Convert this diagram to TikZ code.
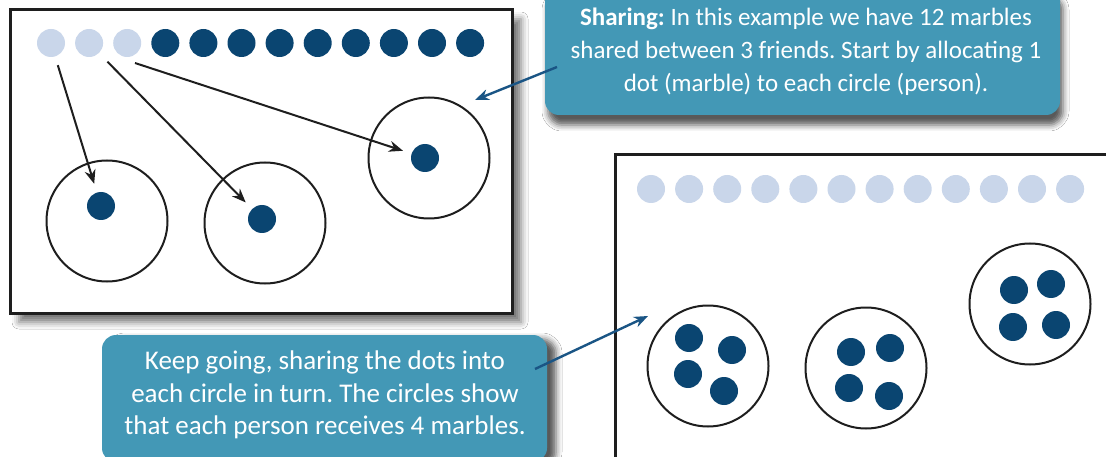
\documentclass[tikz,border=0pt]{standalone}
\usepackage{fontspec}
\setmainfont{Carlito}
\usetikzlibrary{arrows.meta,shadows.blur}
\definecolor{darkdot}{HTML}{0A4571}
\definecolor{lightdot}{HTML}{C9D6EA}
\definecolor{callfill}{HTML}{4398B6}
\definecolor{callarrow}{HTML}{1A5585}
\definecolor{ringcol}{HTML}{1E1E1E}
\tikzset{
  dk/.style={circle,fill=darkdot,minimum size=28pt,inner sep=0pt},
  lt/.style={circle,fill=lightdot,minimum size=28pt,inner sep=0pt},
  ring/.style={circle,draw=ringcol,line width=2pt,minimum size=121pt,inner sep=0pt},
  panel/.style={draw=ringcol,line width=3pt,fill=white},
  callout/.style={fill=callfill,rounded corners=14pt},
  calltext/.style={text=white,align=center},
  blk/.style={line width=2pt,draw=ringcol,-{Stealth[length=14pt,width=11pt]}},
  blu/.style={line width=2.4pt,draw=callarrow,-{Stealth[length=14pt,width=11pt]}},
}
\frenchspacing
\begin{document}
\begin{tikzpicture}[x=1pt,y=-1pt]
\useasboundingbox (0,0) rectangle (1106,457);
\fill[white] (0,0) rectangle (1106,457);
% left panel
\path[panel,blur shadow={shadow xshift=9pt,shadow yshift=-9pt,shadow blur radius=7pt,shadow opacity=55}] (10,10) rectangle (512,313);
% right panel
\path[panel] (615,155) rectangle (1120,470);
% top row left
\foreach \i in {1,2,3} {\node[lt] (a\i) at ({51+38.1*(\i-1)},43) {};}
\foreach \i in {4,...,12} {\node[dk] (a\i) at ({51+38.1*(\i-1)},43) {};}
% rings left
\node[ring] (r1) at (107,221) {};
\node[ring] (r2) at (265,223) {};
\node[ring] (r3) at (429,158) {};
\node[dk] (p1) at (101,206) {};
\node[dk] (p2) at (262,219) {};
\node[dk] (p3) at (425,158) {};
\draw[blk,shorten <=9pt,shorten >=9pt] (a1) -- (p1);
\draw[blk,shorten <=12pt,shorten >=9pt] (a2) -- (p2);
\coordinate (s3) at (135,63);
\draw[blk,shorten >=9pt] (s3) -- (p3);
% right panel contents
\foreach \i in {1,...,12} {\node[lt] (b\i) at ({651+38.1*(\i-1)},189) {};}
\node[ring] (q1) at (708,366) {};
\node[ring] (q2) at (866,368) {};
\node[ring] (q3) at (1030,304) {};
\node[dk] (m1) at (689,338) {};
\node[dk] (m2) at (732,350) {};
\node[dk] (m3) at (688,374) {};
\node[dk] (m4) at (724,391) {};
\node[dk] (n1) at (851,352) {};
\node[dk] (n2) at (890,348) {};
\node[dk] (n3) at (849,388) {};
\node[dk] (n4) at (889,396) {};
\node[dk] (o1) at (1014,290) {};
\node[dk] (o2) at (1051,284) {};
\node[dk] (o3) at (1013,327) {};
\node[dk] (o4) at (1056,325) {};
% callout 1
\path[callout,blur shadow={shadow xshift=3pt,shadow yshift=-10pt,shadow blur radius=6pt,shadow opacity=65}] (545,-14) rectangle (1060,115);
\node[calltext,font=\fontsize{25}{33}\selectfont] (c1) at (806,52) {\textbf{Sharing:} In this example we have 12 marbles\\shared between 3 friends. Start by allocating 1\\dot (marble) to each circle (person).};
\coordinate (t1) at (475,100);
\coordinate (f1) at (557,67);
\draw[blu] (f1) -- (t1);
% callout 2
\path[callout,blur shadow={shadow xshift=9pt,shadow yshift=-4pt,shadow blur radius=6pt,shadow opacity=65}] (102,335) rectangle (547,462);
\node[calltext,font=\fontsize{27}{32.5}\selectfont] (c2) at (325,395) {Keep going, sharing the dots into\\each circle in turn. The circles show\\that each person receives 4 marbles.};
\coordinate (f2) at (535,369);
\coordinate (t2) at (648,316);
\draw[blu] (f2) -- (t2);
\end{tikzpicture}
\end{document}
